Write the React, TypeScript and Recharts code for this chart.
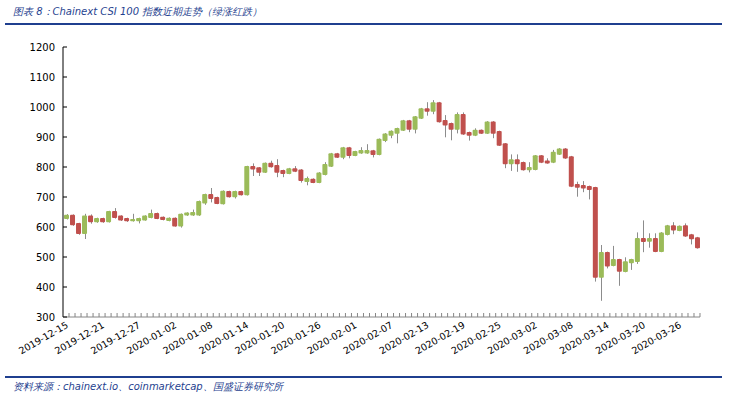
import React from "react";
import { ComposedChart, Bar, XAxis, YAxis } from "recharts";

// daily candles, 2019-12-15 .. 2020-03-29
const startDay = Date.UTC(2019, 11, 15);
const dates: string[] = Array.from({ length: 106 }, (_, i) =>
  new Date(startDay + i * 86400000).toISOString().slice(0, 10)
);

const opens = [
  627, 641, 613, 577, 638, 616, 630, 616, 653, 638, 630, 619, 619, 622, 630, 647, 634, 620, 631, 602,
  638, 638, 638, 678, 710, 700, 676, 720, 699, 720, 706, 803, 799, 781, 814, 807, 790, 777, 796, 792,
  750, 761, 747, 773, 801, 846, 831, 866, 837, 845, 845, 856, 840, 887, 904, 911, 921, 956, 924, 961,
  996, 984, 1016, 957, 947, 924, 977, 917, 904, 924, 911, 952, 920, 879, 809, 826, 817, 789, 790, 839,
  822, 814, 841, 862, 836, 743, 740, 737, 733, 431, 517, 470, 493, 450, 479, 483, 563, 551, 563, 517,
  573, 606, 587, 606, 576, 566,
];
const closes = [
  641, 606, 577, 638, 616, 630, 616, 653, 630, 622, 619, 627, 630, 638, 647, 627, 623, 631, 602, 644,
  648, 650, 687, 710, 693, 677, 721, 699, 720, 706, 803, 792, 781, 814, 799, 781, 777, 796, 784, 753,
  763, 747, 782, 810, 846, 831, 866, 837, 853, 857, 857, 840, 894, 912, 921, 930, 956, 924, 969, 996,
  984, 1016, 949, 938, 924, 977, 908, 904, 924, 911, 952, 911, 871, 809, 826, 809, 789, 800, 839, 814,
  812, 851, 862, 828, 734, 731, 728, 723, 431, 517, 468, 493, 451, 486, 493, 563, 550, 563, 517, 582,
  606, 588, 604, 568, 559, 529,
];
const highs = [
  643, 642, 614, 644, 642, 631, 631, 654, 663, 639, 631, 644, 631, 639, 658, 648, 635, 632, 632, 645,
  649, 658, 688, 711, 730, 701, 722, 721, 721, 721, 804, 812, 800, 815, 821, 826, 791, 797, 803, 793,
  768, 762, 783, 816, 847, 847, 867, 867, 854, 866, 876, 857, 895, 913, 922, 931, 957, 957, 970, 997,
  1016, 1023, 1017, 973, 948, 982, 982, 918, 929, 925, 953, 953, 921, 880, 842, 842, 818, 816, 840, 840,
  829, 857, 863, 863, 837, 751, 753, 738, 734, 540, 518, 537, 494, 499, 494, 582, 622, 579, 579, 583,
  607, 616, 605, 612, 577, 567,
];
const lows = [
  625, 604, 574, 560, 611, 614, 614, 615, 628, 620, 617, 618, 612, 621, 629, 626, 622, 619, 601, 598,
  637, 637, 637, 674, 682, 676, 675, 698, 695, 705, 705, 770, 770, 780, 798, 766, 766, 776, 783, 748,
  739, 746, 746, 772, 800, 830, 826, 829, 836, 844, 844, 832, 839, 883, 896, 879, 920, 916, 912, 960,
  971, 976, 948, 899, 889, 912, 907, 888, 903, 910, 910, 896, 870, 796, 787, 784, 788, 782, 789, 813,
  811, 813, 840, 827, 733, 701, 716, 692, 418, 354, 462, 469, 404, 449, 457, 477, 516, 531, 516, 516,
  572, 576, 586, 567, 542, 528,
];

const yTicks = [300, 400, 500, 600, 700, 800, 900, 1000, 1100, 1200];

const data = dates.map((date, i) => ({
  date,
  open: opens[i],
  close: closes[i],
  high: highs[i],
  low: lows[i],
}));

const UP = "#9BBB59";
const DOWN = "#C0504D";
const BLUE = "#1F3F8F";
const FONT = "'DejaVu Sans', Verdana, sans-serif";

const Candle = (props: any) => {
  const { x, y, width, height, payload } = props;
  const { open, close, high, low } = payload;
  const top = Math.min(y, y + height);
  const h = Math.abs(height);
  const ratio = h / (high - low);
  const bodyTop = top + (high - Math.max(open, close)) * ratio;
  const bodyH = Math.max(1, Math.abs(open - close) * ratio);
  const cx = Math.round(x + width / 2) + 0.5;
  return (
    <g>
      <line x1={cx} x2={cx} y1={top} y2={top + h} stroke="#8c8c8c" strokeWidth={1} />
      <rect
        x={x}
        y={bodyTop}
        width={width}
        height={bodyH}
        rx={1}
        fill={close >= open ? UP : DOWN}
      />
    </g>
  );
};

const DateTick = (props: any) => {
  const { x, y, payload, index } = props;
  const last = index === dates.length - 1;
  return (
    <g>
      <line x1={x - 3} x2={x - 3} y1={y} y2={y - 4} stroke="#868686" />
      {last && <line x1={x + 3} x2={x + 3} y1={y} y2={y - 4} stroke="#868686" />}
      {index % 6 === 0 && (
        <text
          x={x + 3}
          y={y + 10}
          textAnchor="end"
          transform={`rotate(-30 ${x + 3} ${y + 10})`}
          fontSize={9.5}
          fontFamily={FONT}
          fill="#000"
        >
          {payload.value}
        </text>
      )}
    </g>
  );
};

const ValueTick = (props: any) => {
  const { x, y, payload } = props;
  return (
    <g>
      <line x1={x} x2={x + 4} y1={y} y2={y} stroke="#000" />
      <text x={x - 8} y={y + 4} textAnchor="end" fontSize={10} fontFamily={FONT} fill="#000">
        {payload.value}
      </text>
    </g>
  );
};

export default function App() {
  return (
    <div
      style={{
        position: "absolute",
        left: 0,
        top: 0,
        width: 739,
        height: 398,
        background: "#fff",
        fontFamily: FONT,
      }}
    >
      <div
        style={{
          position: "absolute",
          left: 13,
          top: 5,
          fontSize: 10,
          fontStyle: "italic",
          color: BLUE,
          whiteSpace: "nowrap",
        }}
      >
        图表 8：Chainext CSI 100 指数近期走势（绿涨红跌）
      </div>
      <div style={{ position: "absolute", left: 5, top: 23, width: 717, height: 2, background: BLUE }} />
      <ComposedChart
        width={739}
        height={398}
        data={data}
        margin={{ top: 47, right: 39, left: 0, bottom: 0 }}
      >
        <XAxis
          dataKey="date"
          interval={0}
          tick={<DateTick />}
          tickLine={false}
          tickSize={0}
          tickMargin={0}
          height={81}
          axisLine={{ stroke: "#868686" }}
        />
        <YAxis
          domain={[300, 1200]}
          ticks={yTicks}
          width={63}
          tick={<ValueTick />}
          tickLine={false}
          tickSize={0}
          tickMargin={0}
          axisLine={{ stroke: "#000" }}
        />
        <Bar
          dataKey={(d: any) => [d.low, d.high]}
          barSize={5}
          shape={<Candle />}
          isAnimationActive={false}
        />
      </ComposedChart>
      <div style={{ position: "absolute", left: 5, top: 376, width: 717, height: 2, background: BLUE }} />
      <div
        style={{
          position: "absolute",
          left: 13,
          top: 380,
          fontSize: 10,
          fontStyle: "italic",
          color: BLUE,
          whiteSpace: "nowrap",
        }}
      >
        资料来源：chainext.io、coinmarketcap、国盛证券研究所
      </div>
    </div>
  );
}
